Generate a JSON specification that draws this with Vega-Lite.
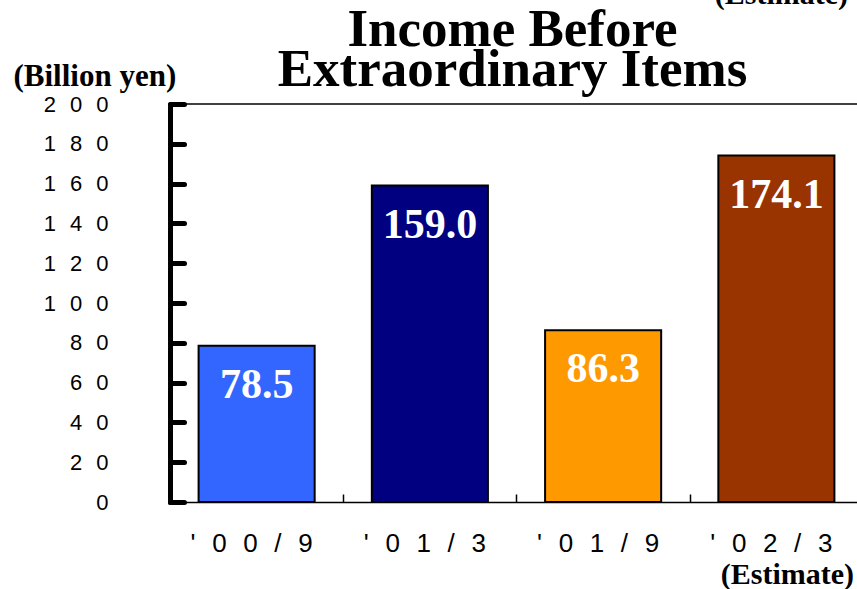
{
  "$schema": "https://vega.github.io/schema/vega-lite/v6.json",
  "width": 693,
  "height": 398,
  "autosize": "none",
  "padding": {"left": 170, "top": 104, "right": 0, "bottom": 87},
  "background": "white",
  "config": {"view": {"stroke": null}},
  "title": {
    "text": ["Income Before", "Extraordinary Items"],
    "font": "Liberation Serif",
    "fontSize": 53,
    "fontWeight": "bold",
    "lineHeight": 40,
    "color": "black",
    "anchor": "middle",
    "baseline": "bottom",
    "offset": 0,
    "dx": -4,
    "dy": 170
  },
  "data": {
    "values": [
      {"period": "'00/9", "income": 78.5},
      {"period": "'01/3", "income": 159.0},
      {"period": "'01/9", "income": 86.3},
      {"period": "'02/3", "income": 174.1}
    ]
  },
  "resolve": {"axis": {"x": "independent", "y": "independent"}},
  "layer": [
    {
      "data": {"values": [{"top": 200}]},
      "mark": {"type": "rule", "color": "black", "strokeWidth": 1.5},
      "encoding": {
        "y": {"field": "top", "type": "quantitative", "scale": {"domain": [0, 200], "nice": false}, "axis": null}
      }
    },
    {
      "mark": {"type": "bar", "stroke": "black", "strokeWidth": 2},
      "encoding": {
        "x": {
          "field": "period", "type": "nominal", "sort": null,
          "scale": {"paddingInner": 0.33, "paddingOuter": 0.165},
          "axis": {"orient": "bottom", "title": null, "labels": false, "domain": false, "ticks": true, "bandPosition": 1.25, "tickSize": -8, "tickWidth": 1.5, "tickColor": "black"}
        },
        "y": {
          "field": "income", "type": "quantitative",
          "scale": {"domain": [0, 200], "nice": false},
          "axis": {
            "values": [0, 20, 40, 60, 80, 100, 120, 140, 160, 180, 200],
            "title": "(Billion yen)",
            "titleFont": "Liberation Serif", "titleFontSize": 31, "titleFontWeight": "bold", "titleColor": "black",
            "titleAngle": 0, "titleAlign": "left", "titleBaseline": "alphabetic", "titleX": -157, "titleY": -19,
            "labelExpr": "join(split(datum.label, ''), '\u00a0\u00a0\u200a')",
            "labelFont": "Liberation Sans", "labelFontSize": 22, "labelColor": "black", "labelPadding": 76,
            "domainColor": "black", "domainWidth": 5, "domainCap": "round",
            "tickColor": "black", "tickWidth": 5, "tickSize": -14, "tickCap": "round",
            "grid": false
          }
        },
        "fill": {
          "field": "period", "type": "nominal", "sort": null, "legend": null,
          "scale": {"domain": ["'00/9", "'01/3", "'01/9", "'02/3"], "range": ["#3366FF", "#000080", "#FF9900", "#993300"]}
        }
      }
    },
    {
      "mark": {"type": "text", "color": "white", "font": "Liberation Serif", "fontSize": 42, "fontWeight": "bold", "baseline": "middle", "dy": 39},
      "encoding": {
        "x": {
          "field": "period", "type": "nominal", "sort": null,
          "axis": {
            "orient": "bottom", "title": null, "ticks": false,
            "labelExpr": "join(split(datum.label, ''), '\u00a0\u00a0\u200a')",
            "labelFont": "Liberation Sans", "labelFontSize": 26, "labelColor": "black", "labelPadding": 28, "labelAngle": 0, "labelOffset": -5,
            "domainColor": "black", "domainWidth": 1.5
          }
        },
        "y": {"field": "income", "type": "quantitative", "axis": null},
        "text": {"field": "income", "type": "quantitative", "format": ".1f"}
      }
    },
    {
      "data": {"values": [{"note": "(Estimate)"}]},
      "mark": {"type": "text", "color": "black", "font": "Liberation Serif", "fontSize": 30, "fontWeight": "bold", "baseline": "alphabetic", "align": "center", "dx": 11},
      "encoding": {
        "x": {"datum": "'02/3", "type": "nominal", "axis": null},
        "y": {"datum": -41, "type": "quantitative", "axis": null},
        "text": {"field": "note"}
      }
    },
    {
      "data": {"values": [{"note": "(Estimate)"}]},
      "mark": {"type": "text", "color": "black", "font": "Liberation Serif", "fontSize": 30, "fontWeight": "bold", "baseline": "alphabetic", "align": "center", "dx": 5},
      "encoding": {
        "x": {"datum": "'02/3", "type": "nominal", "axis": null},
        "y": {"datum": 250.5, "type": "quantitative", "axis": null},
        "text": {"field": "note"}
      }
    }
  ]
}
